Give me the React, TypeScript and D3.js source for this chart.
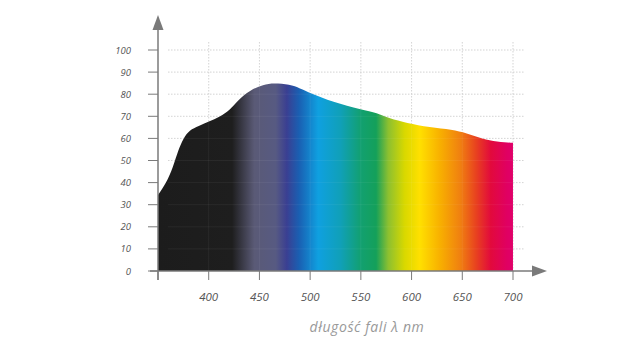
import React from "react";
import * as d3 from "d3";

const wavelengths = [350, 358, 365, 370, 375, 381, 390, 400, 411, 421, 429, 441, 454, 464, 480, 490, 500, 522, 551, 566, 578, 595, 618, 640, 654, 670, 684, 700];
const intensity = [34.4, 39.7, 47.2, 54.8, 60, 63.8, 65.6, 67.6, 69.8, 72.9, 77.4, 81.9, 84.4, 85.1, 84.4, 82.7, 80.5, 76.5, 73, 71.5, 69, 67, 65, 64, 62.4, 59.7, 58.4, 58];

const xTicks = [350, 400, 450, 500, 550, 600, 650, 700];
const xTickLabels = ["", "400", "450", "500", "550", "600", "650", "700"];
const yTicks = [0, 10, 20, 30, 40, 50, 60, 70, 80, 90, 100];

const spectrumStops = [
  { nm: 350, color: "#1c1c1c" },
  { nm: 423, color: "#1e1e1e" },
  { nm: 445, color: "#5a5a76" },
  { nm: 466, color: "#575a82" },
  { nm: 477, color: "#3a3f92" },
  { nm: 489, color: "#1a5fb2" },
  { nm: 508, color: "#0fa0e0" },
  { nm: 530, color: "#10a0b8" },
  { nm: 550, color: "#12a070" },
  { nm: 565, color: "#14a05a" },
  { nm: 577, color: "#8cc030" },
  { nm: 593, color: "#d8d800" },
  { nm: 608, color: "#ffe000" },
  { nm: 628, color: "#f8b000" },
  { nm: 648, color: "#f08010" },
  { nm: 664, color: "#e84020" },
  { nm: 678, color: "#e20a3c" },
  { nm: 694, color: "#e00062" },
  { nm: 700, color: "#e0006a" },
];

export default function App() {
  const x = d3.scaleLinear().domain([350, 700]).range([158, 513]);
  const y = d3.scaleLinear().domain([0, 100]).range([271, 50]);

  const data = wavelengths.map((w, i) => ({ w, v: intensity[i] }));
  const area = d3
    .area<{ w: number; v: number }>()
    .x((d) => x(d.w))
    .y0(y(0))
    .y1((d) => y(d.v))
    .curve(d3.curveBasis);

  const axisColor = "#7a7a7a";
  const gridColor = "#c8c8c8";
  const font = "'Open Sans', Lato, sans-serif";

  return (
    <svg
      width={640}
      height={350}
      style={{ position: "absolute", left: 0, top: 0, background: "#fff" }}
    >
      <defs>
        <linearGradient id="spec" gradientUnits="userSpaceOnUse" x1={x(350)} x2={x(700)} y1={0} y2={0}>
          {spectrumStops.map((s, i) => (
            <stop key={i} offset={(s.nm - 350) / 350} stopColor={s.color} />
          ))}
        </linearGradient>
      </defs>

      {yTicks.slice(1).map((t) => (
        <line key={"h" + t} x1={168} x2={525} y1={y(t)} y2={y(t)} stroke={gridColor} strokeWidth={0.8} strokeDasharray="1.5,1.5" />
      ))}
      {xTicks.slice(1).map((t) => (
        <line key={"v" + t} x1={x(t)} x2={x(t)} y1={42} y2={y(0)} stroke={gridColor} strokeWidth={0.8} strokeDasharray="1.5,1.5" />
      ))}

      <path d={area(data) || ""} fill="url(#spec)" />

      {yTicks.slice(1).map((t) => (
        <line key={"ho" + t} x1={168} x2={x(700)} y1={y(t)} y2={y(t)} stroke="#ffffff" strokeOpacity={0.07} strokeWidth={0.8} />
      ))}
      {xTicks.slice(1).map((t) => (
        <line key={"vo" + t} x1={x(t)} x2={x(t)} y1={42} y2={y(0)} stroke="#ffffff" strokeOpacity={0.07} strokeWidth={0.8} />
      ))}

      <line x1={158} x2={158} y1={28} y2={280} stroke={axisColor} strokeWidth={1.5} />
      <polygon points="158,15 152.5,30 163.5,30" fill={axisColor} />
      <line x1={150} x2={533} y1={271} y2={271} stroke={axisColor} strokeWidth={1.5} />
      <polygon points="547,271 532,265.5 532,276.5" fill={axisColor} />

      {yTicks.map((t) => (
        <g key={"yt" + t}>
          <line x1={148} x2={158} y1={y(t)} y2={y(t)} stroke={axisColor} strokeWidth={1} />
          <text x={131} y={y(t) + 3.5} textAnchor="end" fontSize={9.5} fontStyle="italic" fill="#555" fontFamily={font}>
            {t}
          </text>
        </g>
      ))}

      {xTicks.map((t, i) => (
        <g key={"xt" + t}>
          <line x1={x(t)} x2={x(t)} y1={271} y2={280} stroke={axisColor} strokeWidth={1} />
          <text x={x(t)} y={301} textAnchor="middle" fontSize={11.5} fontStyle="italic" fill="#555" fontFamily={font}>
            {xTickLabels[i]}
          </text>
        </g>
      ))}

      <text x={367} y={332} textAnchor="middle" fontSize={14} fontStyle="italic" letterSpacing={0.6} fill="#999" fontFamily={font}>
        długość fali λ nm
      </text>
    </svg>
  );
}
